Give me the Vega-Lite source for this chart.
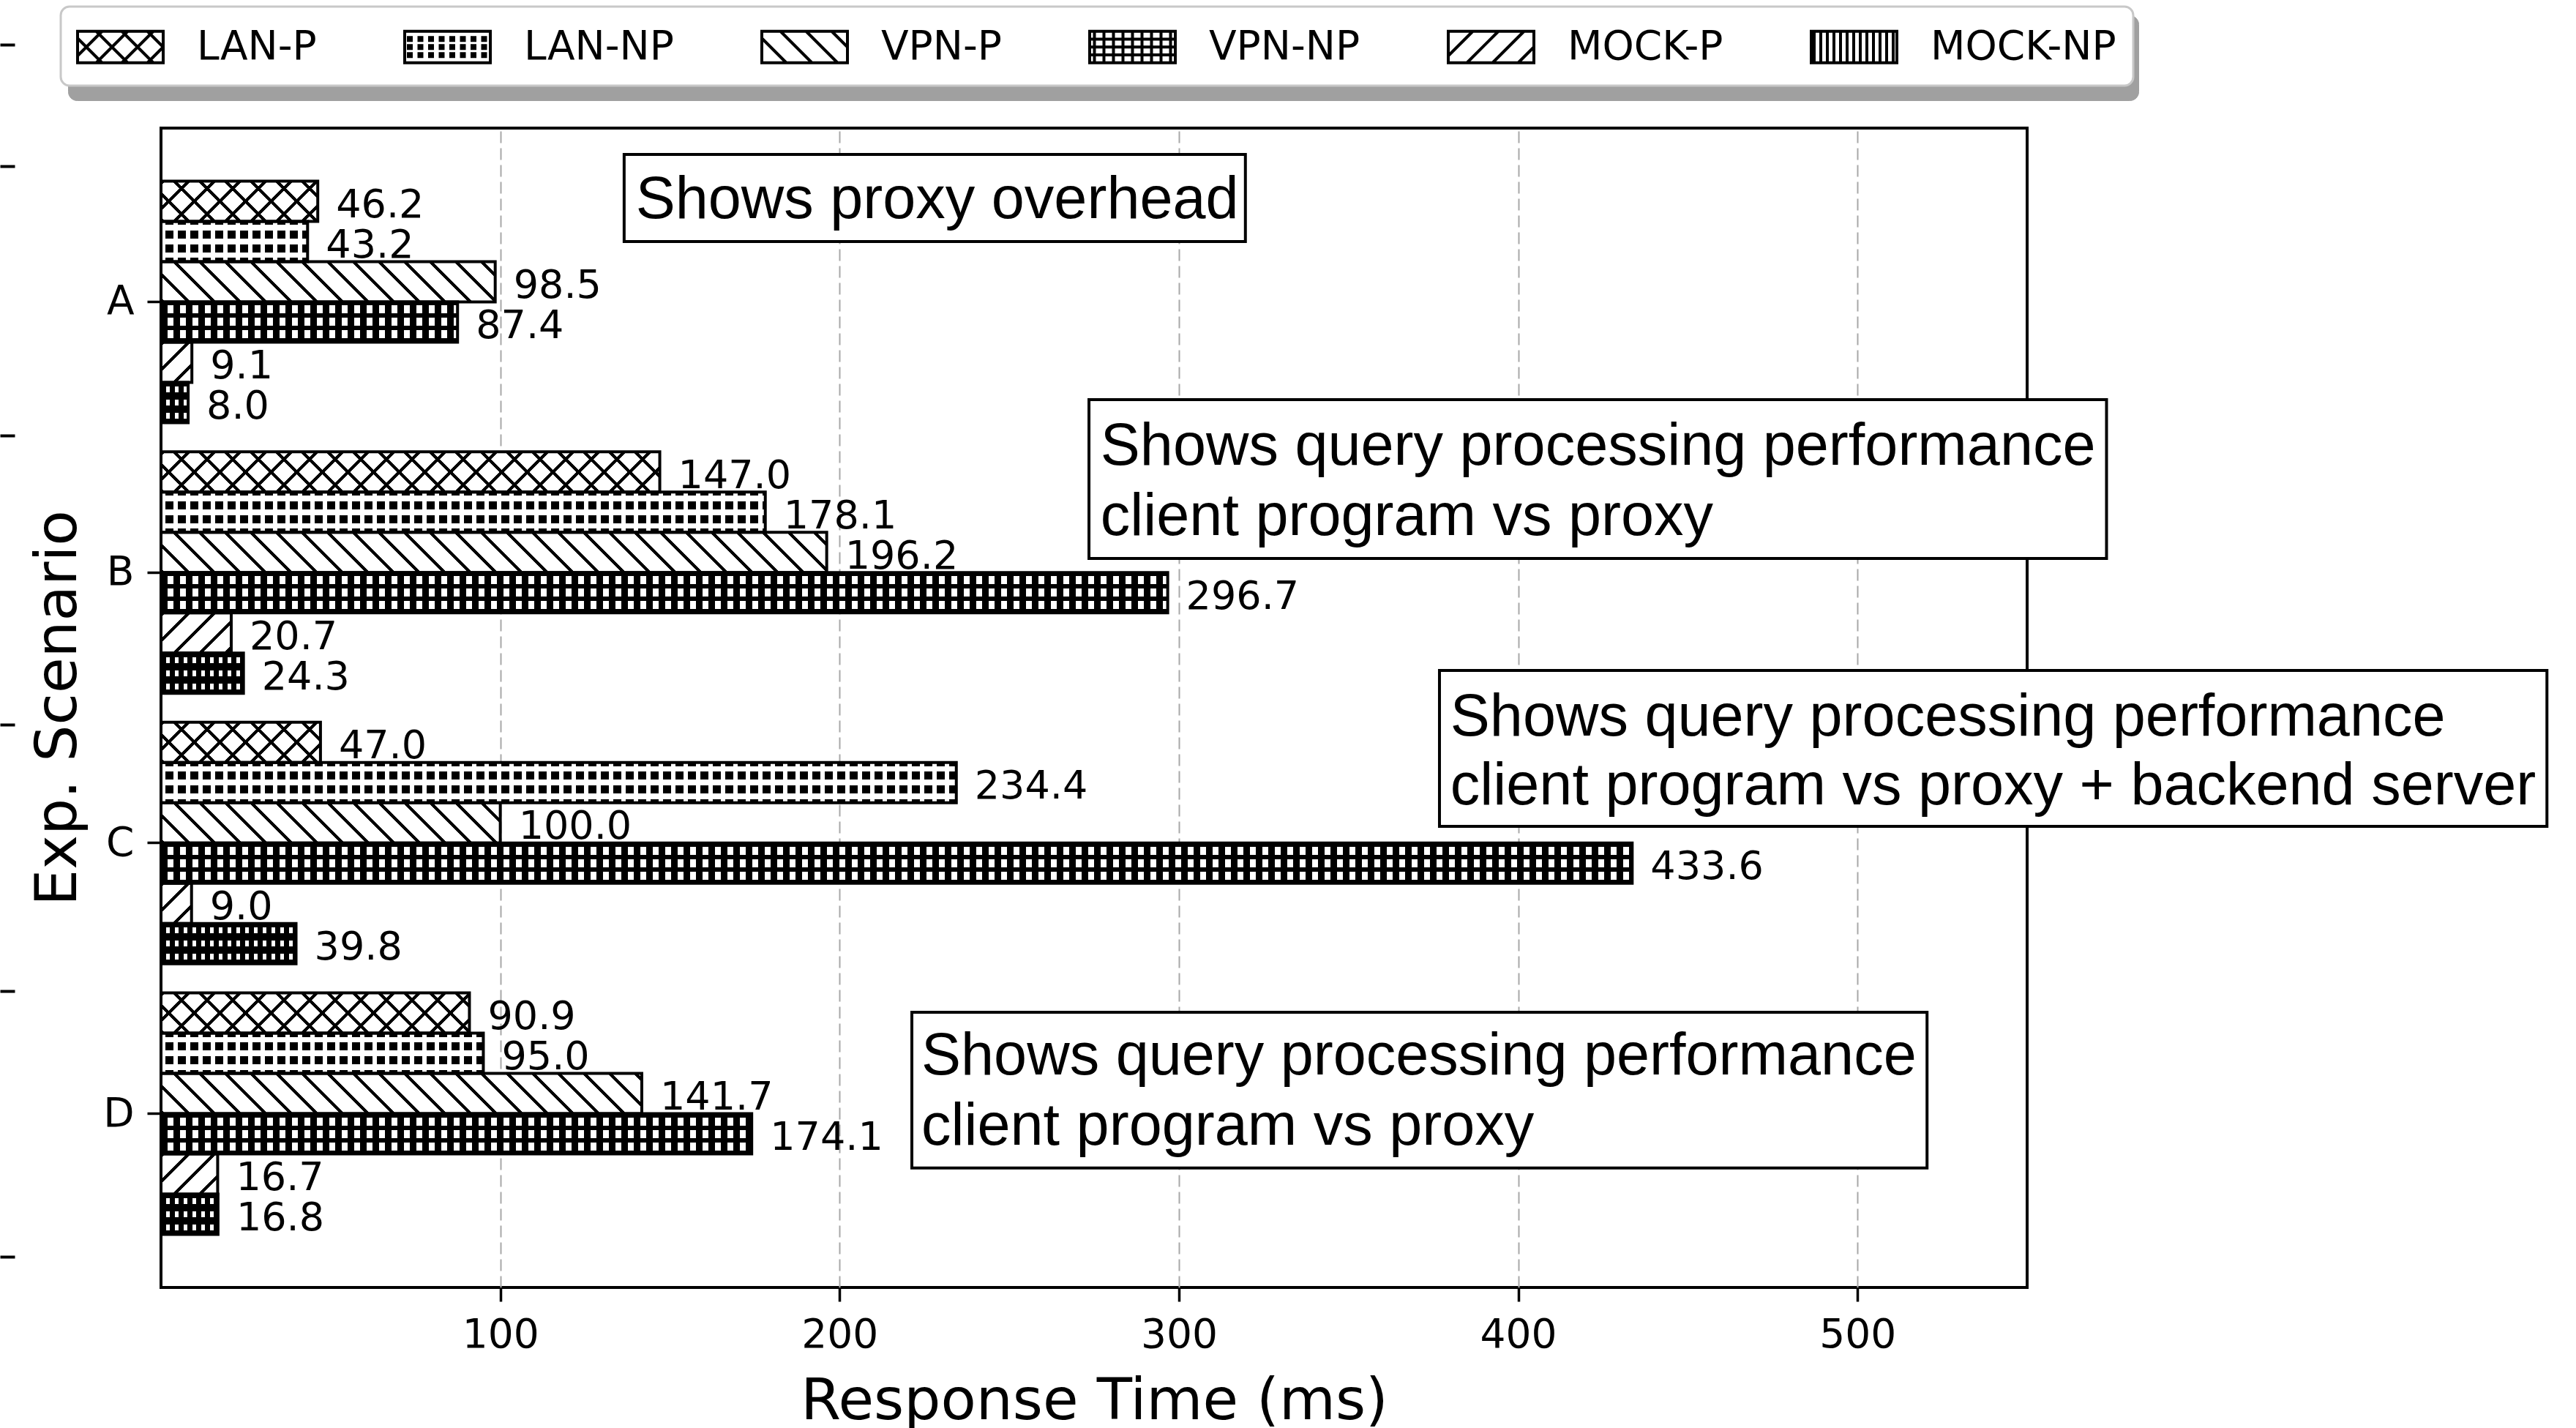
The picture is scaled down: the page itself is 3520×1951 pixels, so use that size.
{
  "$schema": "https://vega.github.io/schema/vega-lite/v6.json",
  "width": 2550,
  "height": 1584,
  "autosize": {"type": "none"},
  "padding": {"left": 220, "top": 175, "right": 750, "bottom": 192},
  "background": "white",
  "config": {
    "view": {"stroke": "black", "strokeWidth": 4},
    "font": "DejaVu Sans",
    "axis": {"labelFont": "DejaVu Sans", "titleFont": "DejaVu Sans", "labelColor": "black", "titleColor": "black", "titleFontWeight": "normal", "tickColor": "black", "domain": false}
  },
  "params": [
    {"name": "hatch", "expr": "[{offset:0,color:'#000'},{offset:0.0061,color:'#000'},{offset:0.0061,color:'transparent'},{offset:0.0357,color:'transparent'},{offset:0.0357,color:'#000'},{offset:0.0418,color:'#000'},{offset:0.0418,color:'transparent'},{offset:0.0714,color:'transparent'},{offset:0.0714,color:'#000'},{offset:0.0775,color:'#000'},{offset:0.0775,color:'transparent'},{offset:0.1071,color:'transparent'},{offset:0.1071,color:'#000'},{offset:0.1132,color:'#000'},{offset:0.1132,color:'transparent'},{offset:0.1429,color:'transparent'},{offset:0.1429,color:'#000'},{offset:0.149,color:'#000'},{offset:0.149,color:'transparent'},{offset:0.1786,color:'transparent'},{offset:0.1786,color:'#000'},{offset:0.1847,color:'#000'},{offset:0.1847,color:'transparent'},{offset:0.2143,color:'transparent'},{offset:0.2143,color:'#000'},{offset:0.2204,color:'#000'},{offset:0.2204,color:'transparent'},{offset:0.25,color:'transparent'},{offset:0.25,color:'#000'},{offset:0.2561,color:'#000'},{offset:0.2561,color:'transparent'},{offset:0.2857,color:'transparent'},{offset:0.2857,color:'#000'},{offset:0.2918,color:'#000'},{offset:0.2918,color:'transparent'},{offset:0.3214,color:'transparent'},{offset:0.3214,color:'#000'},{offset:0.3275,color:'#000'},{offset:0.3275,color:'transparent'},{offset:0.3571,color:'transparent'},{offset:0.3571,color:'#000'},{offset:0.3632,color:'#000'},{offset:0.3632,color:'transparent'},{offset:0.3929,color:'transparent'},{offset:0.3929,color:'#000'},{offset:0.399,color:'#000'},{offset:0.399,color:'transparent'},{offset:0.4286,color:'transparent'},{offset:0.4286,color:'#000'},{offset:0.4347,color:'#000'},{offset:0.4347,color:'transparent'},{offset:0.4643,color:'transparent'},{offset:0.4643,color:'#000'},{offset:0.4704,color:'#000'},{offset:0.4704,color:'transparent'},{offset:0.5,color:'transparent'},{offset:0.5,color:'#000'},{offset:0.5061,color:'#000'},{offset:0.5061,color:'transparent'},{offset:0.5357,color:'transparent'},{offset:0.5357,color:'#000'},{offset:0.5418,color:'#000'},{offset:0.5418,color:'transparent'},{offset:0.5714,color:'transparent'},{offset:0.5714,color:'#000'},{offset:0.5775,color:'#000'},{offset:0.5775,color:'transparent'},{offset:0.6071,color:'transparent'},{offset:0.6071,color:'#000'},{offset:0.6132,color:'#000'},{offset:0.6132,color:'transparent'},{offset:0.6429,color:'transparent'},{offset:0.6429,color:'#000'},{offset:0.649,color:'#000'},{offset:0.649,color:'transparent'},{offset:0.6786,color:'transparent'},{offset:0.6786,color:'#000'},{offset:0.6847,color:'#000'},{offset:0.6847,color:'transparent'},{offset:0.7143,color:'transparent'},{offset:0.7143,color:'#000'},{offset:0.7204,color:'#000'},{offset:0.7204,color:'transparent'},{offset:0.75,color:'transparent'},{offset:0.75,color:'#000'},{offset:0.7561,color:'#000'},{offset:0.7561,color:'transparent'},{offset:0.7857,color:'transparent'},{offset:0.7857,color:'#000'},{offset:0.7918,color:'#000'},{offset:0.7918,color:'transparent'},{offset:0.8214,color:'transparent'},{offset:0.8214,color:'#000'},{offset:0.8275,color:'#000'},{offset:0.8275,color:'transparent'},{offset:0.8571,color:'transparent'},{offset:0.8571,color:'#000'},{offset:0.8632,color:'#000'},{offset:0.8632,color:'transparent'},{offset:0.8929,color:'transparent'},{offset:0.8929,color:'#000'},{offset:0.899,color:'#000'},{offset:0.899,color:'transparent'},{offset:0.9286,color:'transparent'},{offset:0.9286,color:'#000'},{offset:0.9347,color:'#000'},{offset:0.9347,color:'transparent'},{offset:0.9643,color:'transparent'},{offset:0.9643,color:'#000'},{offset:0.9704,color:'#000'},{offset:0.9704,color:'transparent'},{offset:1,color:'transparent'}]"},
    {"name": "gLanNP", "expr": "{gradient:'linear',x1:0,y1:0,x2:0.00001,y2:1,stops:[{offset:0,color:'#000'},{offset:0.0909,color:'#000'},{offset:0.0909,color:'#fff'},{offset:0.2273,color:'#fff'},{offset:0.2273,color:'#000'},{offset:0.4273,color:'#000'},{offset:0.4273,color:'#fff'},{offset:0.5727,color:'#fff'},{offset:0.5727,color:'#000'},{offset:0.7727,color:'#000'},{offset:0.7727,color:'#fff'},{offset:0.9091,color:'#fff'},{offset:0.9091,color:'#000'},{offset:1,color:'#000'}]}"},
    {"name": "gVpnNP", "expr": "{gradient:'linear',x1:0,y1:0,x2:0.00001,y2:1,stops:[{offset:0,color:'#000'},{offset:0.0909,color:'#000'},{offset:0.0909,color:'#fff'},{offset:0.2909,color:'#fff'},{offset:0.2909,color:'#000'},{offset:0.4,color:'#000'},{offset:0.4,color:'#fff'},{offset:0.6,color:'#fff'},{offset:0.6,color:'#000'},{offset:0.7091,color:'#000'},{offset:0.7091,color:'#fff'},{offset:0.9091,color:'#fff'},{offset:0.9091,color:'#000'},{offset:1,color:'#000'}]}"},
    {"name": "gMockNP", "expr": "{gradient:'linear',x1:0,y1:0,x2:0.00001,y2:1,stops:[{offset:0,color:'#000'},{offset:0.1,color:'#000'},{offset:0.1,color:'#fff'},{offset:0.2455,color:'#fff'},{offset:0.2455,color:'#000'},{offset:0.4273,color:'#000'},{offset:0.4273,color:'#fff'},{offset:0.5727,color:'#fff'},{offset:0.5727,color:'#000'},{offset:0.7545,color:'#000'},{offset:0.7545,color:'#fff'},{offset:0.9,color:'#fff'},{offset:0.9,color:'#000'},{offset:1,color:'#000'}]}"},
    {"name": "pRect", "value": "M-1.0667,-0.7167H2.8333V0.7167H-1.0667Z"},
    {"name": "pLanP", "value": "M-1.0667,-0.7167H2.8333V0.7167H-1.0667ZM0.05,-0.7167L-1.0667,0.4M1.2167,-0.7167L-0.2167,0.7167M2.3833,-0.7167L0.95,0.7167M2.8333,0L2.1167,0.7167M-1.0667,-0.4L0.05,0.7167M-0.2167,-0.7167L1.2167,0.7167M0.95,-0.7167L2.3833,0.7167M2.1167,-0.7167L2.8333,0"},
    {"name": "pVpnP", "value": "M-1.0667,-0.7167H2.8333V0.7167H-1.0667ZM-1.0667,-0.4L0.05,0.7167M-0.2167,-0.7167L1.2167,0.7167M0.95,-0.7167L2.3833,0.7167M2.1167,-0.7167L2.8333,0"},
    {"name": "pMockP", "value": "M-1.0667,-0.7167H2.8333V0.7167H-1.0667ZM0.05,-0.7167L-1.0667,0.4M1.2167,-0.7167L-0.2167,0.7167M2.3833,-0.7167L0.95,0.7167M2.8333,0L2.1167,0.7167"},
    {"name": "pLanNP", "value": "M-1.0667,-0.7167H2.8333V0.7167H-1.0667ZM-0.9,-0.4333h0.1333v0.1333h-0.1333ZM-0.4167,-0.4333h0.1333v0.1333h-0.1333ZM0.0667,-0.4333h0.1333v0.1333h-0.1333ZM0.55,-0.4333h0.1333v0.1333h-0.1333ZM1.0333,-0.4333h0.1333v0.1333h-0.1333ZM1.5167,-0.4333h0.1333v0.1333h-0.1333ZM2,-0.4333h0.1333v0.1333h-0.1333ZM2.4833,-0.4333h0.1333v0.1333h-0.1333ZM-0.9,-0.0667h0.1333v0.1333h-0.1333ZM-0.4167,-0.0667h0.1333v0.1333h-0.1333ZM0.0667,-0.0667h0.1333v0.1333h-0.1333ZM0.55,-0.0667h0.1333v0.1333h-0.1333ZM1.0333,-0.0667h0.1333v0.1333h-0.1333ZM1.5167,-0.0667h0.1333v0.1333h-0.1333ZM2,-0.0667h0.1333v0.1333h-0.1333ZM2.4833,-0.0667h0.1333v0.1333h-0.1333ZM-0.9,0.3h0.1333v0.1333h-0.1333ZM-0.4167,0.3h0.1333v0.1333h-0.1333ZM0.0667,0.3h0.1333v0.1333h-0.1333ZM0.55,0.3h0.1333v0.1333h-0.1333ZM1.0333,0.3h0.1333v0.1333h-0.1333ZM1.5167,0.3h0.1333v0.1333h-0.1333ZM2,0.3h0.1333v0.1333h-0.1333ZM2.4833,0.3h0.1333v0.1333h-0.1333Z"},
    {"name": "pVpnNP", "value": "M-1.0667,-0.7167H2.8333V0.7167H-1.0667ZM-0.85,-0.7167V0.7167M-0.4167,-0.7167V0.7167M0.0167,-0.7167V0.7167M0.45,-0.7167V0.7167M0.8833,-0.7167V0.7167M1.3167,-0.7167V0.7167M1.75,-0.7167V0.7167M2.1833,-0.7167V0.7167M2.6167,-0.7167V0.7167M-1.0667,-0.3583H2.8333M-1.0667,0H2.8333M-1.0667,0.3583H2.8333"},
    {"name": "pMockNP", "value": "M-1.0667,-0.7167H2.8333V0.7167H-1.0667ZM-0.9333,-0.7167V0.7167M-0.6333,-0.7167V0.7167M-0.3333,-0.7167V0.7167M-0.0333,-0.7167V0.7167M0.2667,-0.7167V0.7167M0.5667,-0.7167V0.7167M0.8667,-0.7167V0.7167M1.1667,-0.7167V0.7167M1.4667,-0.7167V0.7167M1.7667,-0.7167V0.7167M2.0667,-0.7167V0.7167M2.3667,-0.7167V0.7167M2.6667,-0.7167V0.7167"}
  ],
  "datasets": {
    "bars": [
      {"scenario": "A", "series": "LAN-P", "ms": 46.2},
      {"scenario": "A", "series": "LAN-NP", "ms": 43.2},
      {"scenario": "A", "series": "VPN-P", "ms": 98.5},
      {"scenario": "A", "series": "VPN-NP", "ms": 87.4},
      {"scenario": "A", "series": "MOCK-P", "ms": 9.1},
      {"scenario": "A", "series": "MOCK-NP", "ms": 8.0},
      {"scenario": "B", "series": "LAN-P", "ms": 147.0},
      {"scenario": "B", "series": "LAN-NP", "ms": 178.1},
      {"scenario": "B", "series": "VPN-P", "ms": 196.2},
      {"scenario": "B", "series": "VPN-NP", "ms": 296.7},
      {"scenario": "B", "series": "MOCK-P", "ms": 20.7},
      {"scenario": "B", "series": "MOCK-NP", "ms": 24.3},
      {"scenario": "C", "series": "LAN-P", "ms": 47.0},
      {"scenario": "C", "series": "LAN-NP", "ms": 234.4},
      {"scenario": "C", "series": "VPN-P", "ms": 100.0},
      {"scenario": "C", "series": "VPN-NP", "ms": 433.6},
      {"scenario": "C", "series": "MOCK-P", "ms": 9.0},
      {"scenario": "C", "series": "MOCK-NP", "ms": 39.8},
      {"scenario": "D", "series": "LAN-P", "ms": 90.9},
      {"scenario": "D", "series": "LAN-NP", "ms": 95.0},
      {"scenario": "D", "series": "VPN-P", "ms": 141.7},
      {"scenario": "D", "series": "VPN-NP", "ms": 174.1},
      {"scenario": "D", "series": "MOCK-P", "ms": 16.7},
      {"scenario": "D", "series": "MOCK-NP", "ms": 16.8}
    ],
    "boxes": [
      {"x1": 136.5, "x2": 319.6, "y1": -0.545, "y2": -0.223},
      {"x1": 273.5, "x2": 573.4, "y1": 0.361, "y2": 0.948},
      {"x1": 376.8, "x2": 703.2, "y1": 1.362, "y2": 1.938},
      {"x1": 221.3, "x2": 520.5, "y1": 2.625, "y2": 3.201}
    ],
    "lines": [
      {"x": 139.9, "y": -0.375, "t": "Shows proxy overhead"},
      {"x": 276.9, "y": 0.537, "t": "Shows query processing performance"},
      {"x": 276.9, "y": 0.797, "t": "client program vs proxy"},
      {"x": 380.0, "y": 1.538, "t": "Shows query processing performance"},
      {"x": 380.0, "y": 1.792, "t": "client program vs proxy + backend server"},
      {"x": 224.1, "y": 2.79, "t": "Shows query processing performance"},
      {"x": 224.1, "y": 3.05, "t": "client program vs proxy"}
    ],
    "seriesList": [
      {"s": "LAN-P"}, {"s": "LAN-NP"}, {"s": "VPN-P"}, {"s": "VPN-NP"}, {"s": "MOCK-P"}, {"s": "MOCK-NP"}
    ]
  },
  "layer": [
    {
      "data": {"name": "bars"},
      "encoding": {
        "y": {"field": "scenario", "type": "nominal", "scale": {"domain": ["A", "B", "C", "D"], "paddingInner": 0.1074, "paddingOuter": 0.196},
          "axis": {"title": "Exp. Scenario", "titleFontSize": 79, "titlePadding": 20, "labelFontSize": 55, "labelPadding": 18, "tickSize": 19, "tickWidth": 3.5, "labelAngle": 0, "grid": false}},
        "yOffset": {"field": "series", "type": "nominal", "scale": {"domain": ["LAN-P", "LAN-NP", "VPN-P", "VPN-NP", "MOCK-P", "MOCK-NP"], "paddingInner": 0, "paddingOuter": 0}},
        "x": {"field": "ms", "type": "quantitative", "title": "Response Time (ms)", "scale": {"domain": [0, 550], "nice": false},
          "axis": {"values": [100, 200, 300, 400, 500], "titleFontSize": 79, "titlePadding": 25, "labelFontSize": 55, "labelPadding": 19, "tickSize": 19, "tickWidth": 3.5, "grid": true, "gridColor": "#a8a8a8", "gridWidth": 2, "gridDash": [16, 7]}}
      },
      "layer": [
        {"mark": {"type": "bar", "fill": {"expr": "datum.series=='LAN-NP'?gLanNP:datum.series=='VPN-NP'?gVpnNP:datum.series=='MOCK-NP'?gMockNP:'#fff'"}}},
        {"transform": [{"filter": "datum.series=='LAN-P'||datum.series=='MOCK-P'"}],
          "mark": {"type": "bar", "fill": {"expr": "{gradient:'linear',x1:0,y1:0,x2:980*(scale('x',datum.ms)-scale('x',0))/(pow(scale('x',datum.ms)-scale('x',0),2)+pow(bandwidth('yOffset'),2)),y2:980*bandwidth('yOffset')/(pow(scale('x',datum.ms)-scale('x',0),2)+pow(bandwidth('yOffset'),2)),stops:hatch}"}}},
        {"transform": [{"filter": "datum.series=='LAN-P'||datum.series=='VPN-P'"}],
          "mark": {"type": "bar", "fill": {"expr": "{gradient:'linear',x1:0,y1:1,x2:980*(scale('x',datum.ms)-scale('x',0))/(pow(scale('x',datum.ms)-scale('x',0),2)+pow(bandwidth('yOffset'),2)),y2:1-980*bandwidth('yOffset')/(pow(scale('x',datum.ms)-scale('x',0),2)+pow(bandwidth('yOffset'),2)),stops:hatch}"}}},
        {"transform": [{"filter": "datum.series=='LAN-NP'"}],
          "mark": {"type": "rule", "color": "#fff", "strokeWidth": {"expr": "bandwidth('yOffset')"}, "strokeDash": [6, 11], "strokeCap": "butt"},
          "encoding": {"x": {"datum": 0, "type": "quantitative"}, "x2": {"field": "ms"}}},
        {"transform": [{"filter": "datum.series=='VPN-NP'"}],
          "mark": {"type": "rule", "color": "#000", "strokeWidth": {"expr": "bandwidth('yOffset')"}, "strokeDash": [9, 8], "strokeCap": "butt"},
          "encoding": {"x": {"datum": 0, "type": "quantitative"}, "x2": {"field": "ms"}}},
        {"transform": [{"filter": "datum.series=='MOCK-NP'"}],
          "mark": {"type": "rule", "color": "#000", "strokeWidth": {"expr": "bandwidth('yOffset')"}, "strokeDash": [7, 5], "strokeCap": "butt"},
          "encoding": {"x": {"datum": 0, "type": "quantitative"}, "x2": {"field": "ms"}}},
        {"mark": {"type": "bar", "stroke": "black", "strokeWidth": 4},
          "encoding": {"fill": {"field": "series", "type": "nominal",
            "scale": {"domain": ["LAN-P", "LAN-NP", "VPN-P", "VPN-NP", "MOCK-P", "MOCK-NP"], "range": ["transparent", "transparent", "transparent", "transparent", "transparent", "transparent"]},
            "legend": {"orient": "none", "legendX": -137, "legendY": -166, "direction": "horizontal", "columns": 6, "title": null, "zindex": 2,
              "symbolSize": 3600, "symbolStrokeWidth": 4, "symbolStrokeColor": "black",
              "labelFont": "DejaVu Sans", "labelFontSize": 55, "labelColor": "black", "labelOffset": 99, "labelLimit": 0,
              "columnPadding": 111, "padding": 23, "strokeColor": "#c8c8c8", "fillColor": "white", "cornerRadius": 12,
              "encode": {
                "legend": {"update": {"strokeWidth": {"value": 3}}},
                "symbols": {"update": {
                  "fill": {"signal": "datum.value=='MOCK-NP'?'#000':'#fff'"},
                  "shape": {"signal": "datum.value=='LAN-P'?pLanP:datum.value=='LAN-NP'?pLanNP:datum.value=='VPN-P'?pVpnP:datum.value=='VPN-NP'?pVpnNP:datum.value=='MOCK-P'?pMockP:pMockNP"},
                  "stroke": {"value": "black"},
                  "strokeWidth": {"value": 4},
                  "opacity": {"value": 1}
                }}
              }}}}},
        {"mark": {"type": "text", "align": "left", "baseline": "middle", "dx": 25, "dy": 6, "fontSize": 54, "font": "DejaVu Sans", "color": "black"},
          "encoding": {"text": {"field": "ms", "type": "quantitative", "format": ".1f"}}}
      ]
    },
    {
      "layer": [
        {"data": {"name": "boxes"},
          "mark": {"type": "rect", "fill": "white", "stroke": "black", "strokeWidth": 4},
          "encoding": {
            "x": {"field": "x1", "type": "quantitative", "title": "Response Time (ms)", "scale": {"domain": [0, 550], "nice": false}},
            "x2": {"field": "x2"},
            "y": {"field": "y1", "type": "quantitative", "scale": {"domain": [-0.6424, 3.6424], "reverse": true, "nice": false, "zero": false},
              "axis": {"orient": "left", "offset": 200, "values": [-0.5026, 0.4937, 1.5621, 2.546, 3.529], "labels": false, "ticks": true, "tickSize": 20, "tickWidth": 4, "tickColor": "black", "domain": false, "grid": false, "title": null}},
            "y2": {"field": "y2"}
          }},
        {"data": {"name": "lines"},
          "mark": {"type": "text", "align": "left", "baseline": "middle", "font": "Liberation Sans", "fontSize": 81, "color": "black"},
          "encoding": {
            "x": {"field": "x", "type": "quantitative", "title": "Response Time (ms)"},
            "y": {"field": "y", "type": "quantitative"},
            "text": {"field": "t", "type": "nominal"}
          }}
      ]
    },
    {
      "data": {"name": "seriesList"},
      "mark": {"type": "text", "text": ""},
      "encoding": {
        "y": {"datum": 0, "type": "quantitative", "scale": {"domain": [0, 1], "reverse": true, "nice": false, "zero": false},
          "axis": {"orient": "left", "offset": 200, "values": [0], "tickOffset": -114, "labels": false, "ticks": true, "tickSize": 20, "tickWidth": 4, "tickColor": "black", "domain": false, "grid": false, "title": null}},
        "stroke": {"field": "s", "type": "nominal",
          "scale": {"domain": ["MOCK-NP", "MOCK-P", "VPN-NP", "VPN-P", "LAN-NP", "LAN-P"], "range": ["transparent", "transparent", "transparent", "transparent", "transparent", "transparent"]},
          "legend": {"orient": "none", "legendX": -127, "legendY": -154, "direction": "horizontal", "columns": 6, "title": null, "zindex": 1,
            "symbolSize": 3600, "symbolStrokeWidth": 4, "symbolStrokeColor": "transparent", "symbolFillColor": "transparent",
            "labelFont": "DejaVu Sans", "labelFontSize": 55, "labelColor": "transparent", "labelOffset": 99, "labelLimit": 0, "labelExpr": "''",
            "columnPadding": 355, "padding": 23, "strokeColor": "#a0a0a0", "fillColor": "#a0a0a0", "cornerRadius": 12,
            "encode": {"symbols": {"update": {"shape": {"signal": "pRect"}, "stroke": {"value": "transparent"}, "fill": {"value": "transparent"}}}}}}
      }
    }
  ],
  "resolve": {"scale": {"y": "independent"}, "axis": {"y": "independent"}}
}
